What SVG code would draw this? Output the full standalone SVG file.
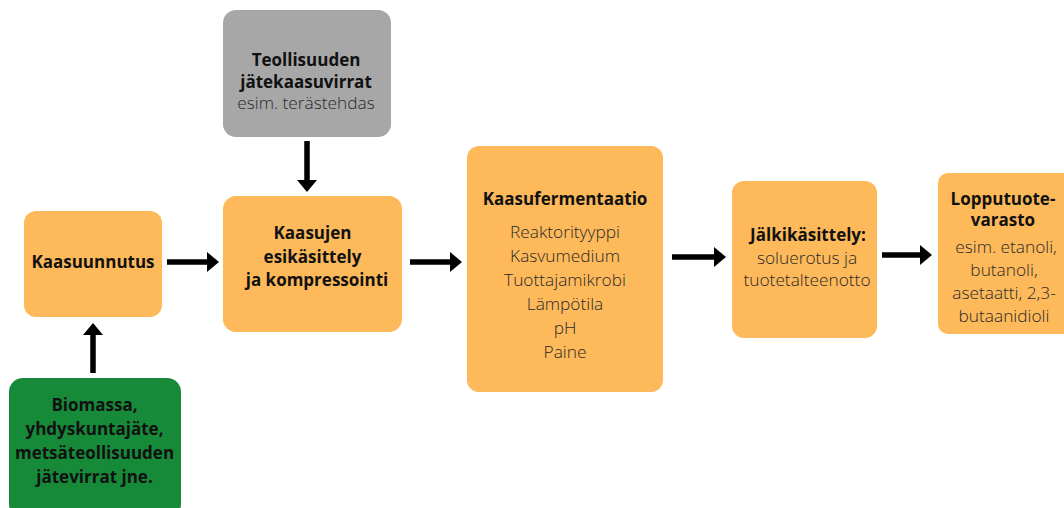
<svg xmlns="http://www.w3.org/2000/svg" width="1064" height="508" viewBox="0 0 1064 508">
<style>
.o{fill:#FDB95A}
.g{fill:#A7A7A7}
.gr{fill:#178A3A}
text{font-family:"Open Sans","Noto Sans","Liberation Sans",sans-serif;font-size:17px;text-anchor:middle;fill:#111}
.b{font-weight:bold;font-size:17px}
.r{fill:#2a2a2a;font-weight:300;font-size:17.3px}
.c{stroke:#000;stroke-width:5.5;fill:none;marker-end:url(#ah)}
</style>
<defs>
<marker id="ah" markerUnits="userSpaceOnUse" markerWidth="13" markerHeight="22" refX="1" refY="11" orient="auto">
<path d="M0,1 L12,11 L0,21 Z" fill="#000"/>
</marker>
</defs>
<rect width="1064" height="508" fill="#fff"/>
<g id="connectors">
<path class="c" d="M167,262 H208"/>
<path class="c" d="M410,262 H451"/>
<path class="c" d="M672,257 H715"/>
<path class="c" d="M882,255 H921"/>
<path class="c" d="M307,141 V181"/>
<path class="c" d="M93,373 V334"/>
</g>
<g id="teollisuuden">
<rect class="g" x="223" y="10" width="168" height="127" rx="13"/>
<text x="306" y="66" class="b">Teollisuuden</text>
<text x="306" y="88" class="b">jätekaasuvirrat</text>
<text x="306" y="109" class="r">esim. terästehdas</text>
</g>
<g id="kaasuunnutus">
<rect class="o" x="24" y="211" width="138" height="106" rx="12"/>
<text x="93" y="268" class="b">Kaasuunnutus</text>
</g>
<g id="biomassa">
<rect class="gr" x="9" y="378" width="172" height="140" rx="14"/>
<text x="94.5" y="411" class="b">Biomassa,</text>
<text x="94.5" y="435" class="b">yhdyskuntajäte,</text>
<text x="94.5" y="459" class="b">metsäteollisuuden</text>
<text x="94.5" y="483" class="b">jätevirrat jne.</text>
</g>
<g id="kaasujen">
<rect class="o" x="223" y="196" width="179" height="136" rx="13"/>
<text x="312.5" y="239" class="b">Kaasujen</text>
<text x="312.5" y="263" class="b">esikäsittely</text>
<text x="317" y="286" class="b">ja kompressointi</text>
</g>
<g id="kaasufermentaatio">
<rect class="o" x="467" y="146" width="196" height="246" rx="12"/>
<text x="565" y="205" class="b">Kaasufermentaatio</text>
<text x="565" y="238" class="r">Reaktorityyppi</text>
<text x="565" y="262" class="r">Kasvumedium</text>
<text x="565" y="286" class="r">Tuottajamikrobi</text>
<text x="565" y="310" class="r">Lämpötila</text>
<text x="565" y="334" class="r">pH</text>
<text x="565" y="358" class="r">Paine</text>
</g>
<g id="jalkikasittely">
<rect class="o" x="732" y="181" width="145" height="157" rx="12"/>
<text x="808" y="241" class="b">Jälkikäsittely:</text>
<text x="807" y="264" class="r">soluerotus ja</text>
<text x="807" y="286" class="r">tuotetalteenotto</text>
</g>
<g id="lopputuotevarasto">
<rect class="o" x="938" y="173" width="136" height="161" rx="10"/>
<text x="1003" y="205" class="b">Lopputuote-</text>
<text x="1003" y="226" class="b">varasto</text>
<text x="1006" y="253" class="r">esim. etanoli,</text>
<text x="1004" y="276" class="r">butanoli,</text>
<text x="1004" y="299" class="r">asetaatti, 2,3-</text>
<text x="1004" y="322" class="r">butaanidioli</text>
</g>
</svg>
